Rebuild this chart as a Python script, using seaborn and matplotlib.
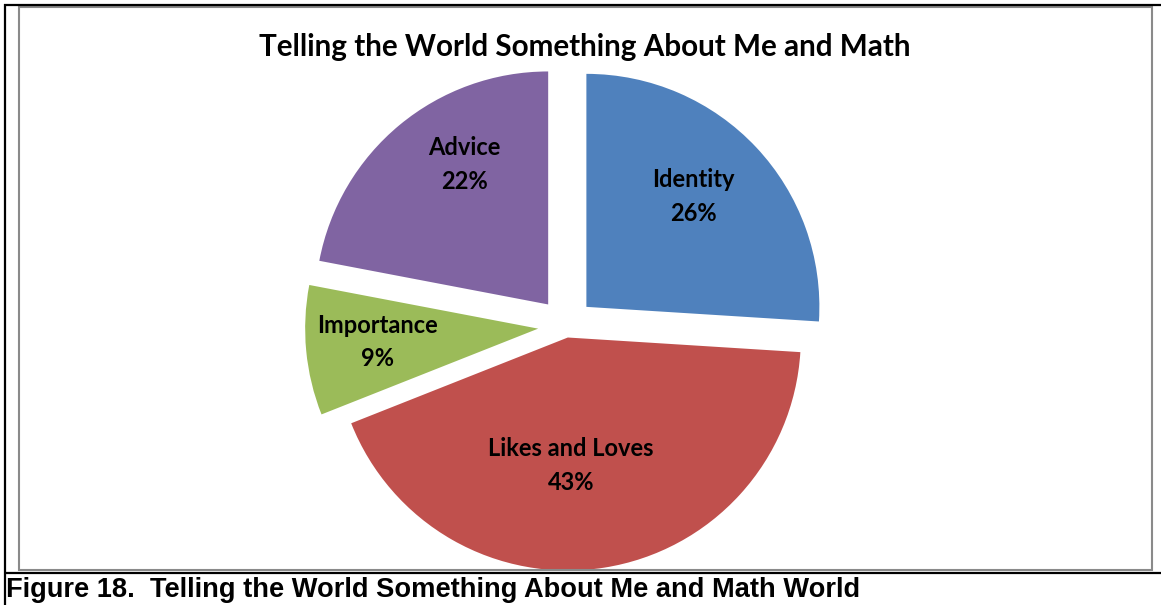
import numpy as np
import matplotlib.pyplot as plt
import seaborn as sns
from matplotlib.patches import Rectangle
from matplotlib.lines import Line2D

categories = ['Identity', 'Likes and Loves', 'Importance', 'Advice']
shares = [26, 43, 9, 22]
colors = ['#4F81BD', '#C0504D', '#9BBB59', '#8064A2']
explode = [0.12, 0.05, 0.12, 0.12]
# label placement inside each slice (radius fraction, angle shift in degrees)
label_dist = [0.66, 0.55, 0.69, 0.70]
label_shift = [2.6, -7.6, -0.6, -8.6]

sns.set_theme(style='white')
plt.rcParams['font.family'] = ['Lato', 'DejaVu Sans']

W, H = 1161, 605
fig = plt.figure(figsize=(W / 100, H / 100), dpi=100)
fig.patch.set_facecolor('white')

# pie centre and radius in pixels (y from the top)
R = 233
cx, cy = 566, 326
ax = fig.add_axes([0, 0, 1, 1])
wedges, _ = ax.pie(shares, colors=colors, explode=explode, startangle=90,
                   counterclock=False, radius=1,
                   wedgeprops=dict(linewidth=0, antialiased=True))
ax.set_xlim(-cx / R, (W - cx) / R)
ax.set_ylim(-(H - cy) / R, cy / R)
ax.set_aspect('auto')
ax.axis('off')

for w, lab, pct, d, s in zip(wedges, categories, shares, label_dist, label_shift):
    th = np.deg2rad((w.theta1 + w.theta2) / 2 + s)
    x = w.center[0] + d * np.cos(th)
    y = w.center[1] + d * np.sin(th)
    ax.text(x, y, f'{lab}\n{pct}%', ha='center', va='center',
            fontsize=17, fontweight='bold', color='black', linespacing=1.55)

fig.text(585 / W, 1 - 47 / H, 'Telling the World Something About Me and Math',
         ha='center', va='center', fontsize=21.3, fontweight='bold', color='black')

# frame of the chart and the document table
def px_line(x0, y0, x1, y1, color, lw):
    fig.add_artist(Line2D([x0 / W, x1 / W], [1 - y0 / H, 1 - y1 / H],
                          transform=fig.transFigure, color=color, lw=lw,
                          solid_capstyle='butt'))

fig.add_artist(Rectangle((19 / W, 1 - 570 / H), (1152 - 19) / W, (570 - 7) / H,
                         transform=fig.transFigure, fill=False,
                         edgecolor='#8a8a8a', lw=1.5))
px_line(4, 5, W, 5, 'black', 1.6)
px_line(5, 4, 5, H, 'black', 1.6)
px_line(4, 573, W, 573, 'black', 1.6)

fig.text(6 / W, 1 - 590 / H,
         'Figure 18.  Telling the World Something About Me and Math World',
         ha='left', va='center', fontsize=19.6, fontweight='bold',
         family=['Liberation Sans', 'DejaVu Sans'], color='black')

fig.savefig('out.png', dpi=100)
